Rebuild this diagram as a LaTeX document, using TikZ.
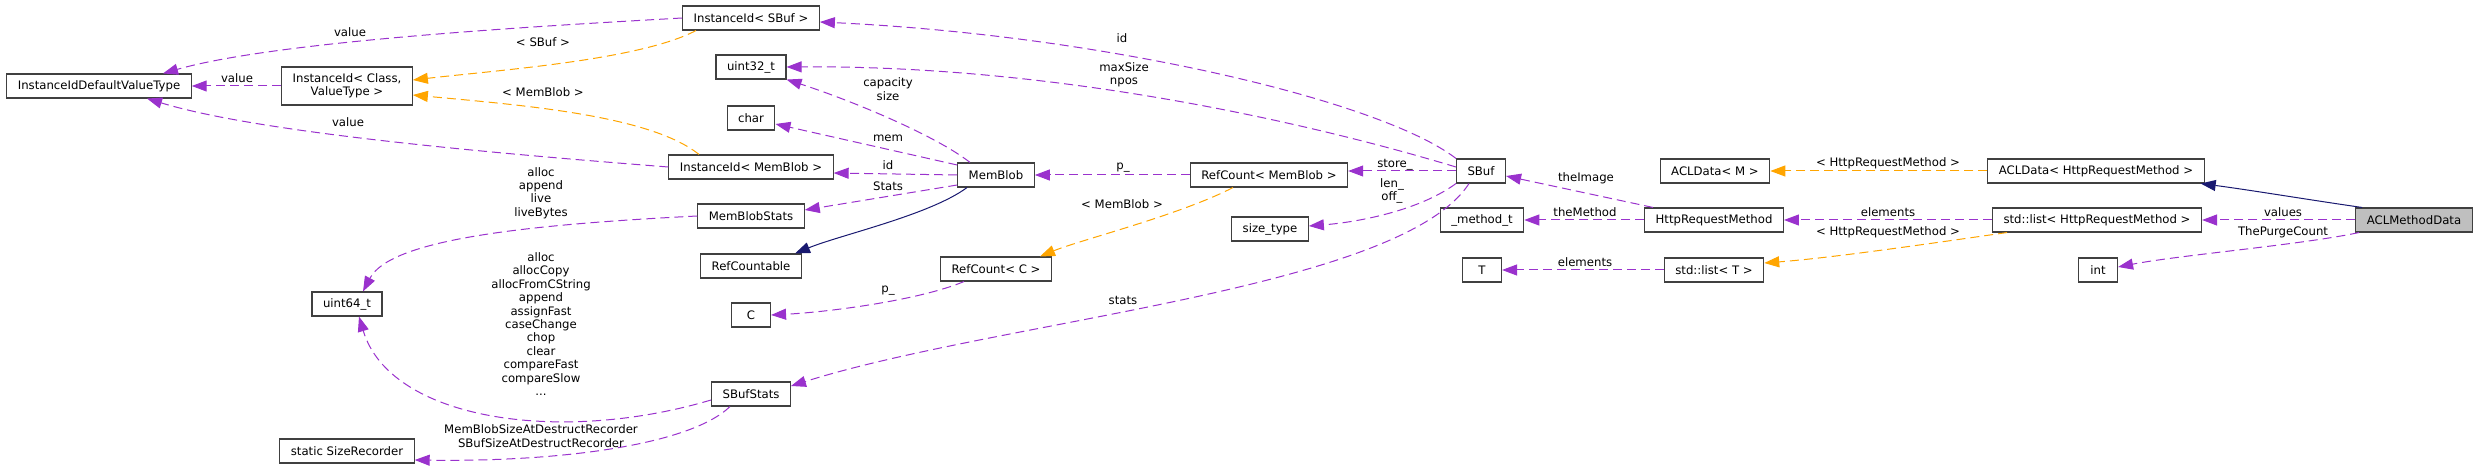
\documentclass[tikz,border=0pt]{standalone}
\usepackage{fontspec}
\setmainfont{DejaVu Sans}
\usetikzlibrary{arrows.meta}
\definecolor{usecol}{HTML}{9A32CD}
\definecolor{tplcol}{HTML}{FFA500}
\definecolor{inhcol}{HTML}{191970}
\definecolor{boxcol}{HTML}{404040}
\definecolor{fillcol}{HTML}{BFBFBF}
\newcommand{\dfs}{\fontsize{11.7}{13.4}\selectfont}
\begin{document}
\begin{tikzpicture}[x=1pt,y=-1pt,
 cls/.style={draw=boxcol, line width=1.1pt, fill=white, minimum height=24pt, minimum width=39pt, inner xsep=11pt, inner ysep=2pt, font=\dfs, align=center},
 lbl/.style={font=\dfs, align=center, inner sep=0pt},
 usage/.style={draw=usecol, line width=1pt, dash pattern=on 9pt off 5pt, -{Triangle[length=15pt,width=11pt]}},
 tmpl/.style={usage, draw=tplcol},
 inh/.style={draw=inhcol, line width=1pt, -{Triangle[length=15pt,width=11pt]}}]
\useasboundingbox (0,0) rectangle (2479,470);

% nodes
\node[cls] (iidvt) at (99,86) {InstanceIdDefaultValueType};
\node[cls, minimum height=38pt] (iicv) at (347,86) {InstanceId< Class,\\ValueType >};
\node[cls] (u64) at (347,304) {uint64\_t};
\node[cls] (ssr) at (347,451) {static SizeRecorder};
\node[cls] (iisbuf) at (751,18) {InstanceId< SBuf >};
\node[cls] (u32) at (751,67) {uint32\_t};
\node[cls] (chr) at (751,118) {char};
\node[cls] (iimb) at (751,167) {InstanceId< MemBlob >};
\node[cls] (mbs) at (751,216) {MemBlobStats};
\node[cls] (rc) at (751,266) {RefCountable};
\node[cls] (c) at (751,315) {C};
\node[cls] (sbs) at (751,394) {SBufStats};
\node[cls] (mb) at (996,175) {MemBlob};
\node[cls] (rcc) at (996,269) {RefCount< C >};
\node[cls] (rcmb) at (1269,175) {RefCount< MemBlob >};
\node[cls] (st) at (1270,229) {size\_type};
\node[cls] (sbuf) at (1481,171) {SBuf};
\node[cls] (mt) at (1482,220) {\_method\_t};
\node[cls] (t) at (1482,270) {T};
\node[cls] (aclm) at (1715,171) {ACLData< M >};
\node[cls] (hrm) at (1714,220) {HttpRequestMethod};
\node[cls] (lt) at (1714,270) {std::list< T >};
\node[cls] (aclhrm) at (2096,171) {ACLData< HttpRequestMethod >};
\node[cls] (lhrm) at (2097,220) {std::list< HttpRequestMethod >};
\node[cls] (int) at (2098,270) {int};
\node[cls, fill=fillcol] (amd) at (2414,220) {ACLMethodData};

% edges
\draw[usage] (iisbuf.west) .. controls (560,25) and (280,40) .. ([xshift=64pt]iidvt.north);
\draw[usage] (iicv.west) -- (iidvt.east);
\draw[usage] (iimb.west) .. controls (450,150) and (250,130) .. ([xshift=48pt]iidvt.south);
\draw[tmpl] ([xshift=-55pt]iisbuf.south) .. controls (640,60) and (500,70) .. ([yshift=6pt]iicv.east);
\draw[tmpl] ([xshift=-52pt]iimb.north) .. controls (650,115) and (520,105) .. ([yshift=-9pt]iicv.east);
\draw[usage] (mbs.west) .. controls (520,225) and (390,240) .. ([xshift=16pt]u64.north);
\draw[usage] ([yshift=-6pt]sbs.west) .. controls (560,445) and (390,420) .. ([xshift=12pt]u64.south);
\draw[usage] ([xshift=-21pt]sbs.south) .. controls (690,445) and (560,462) .. ([yshift=-9pt]ssr.east);
\draw[usage] ([xshift=-26pt]mb.north) .. controls (935,135) and (850,100) .. (u32.south east);
\draw[usage] ([yshift=10pt]mb.west) -- ([yshift=-6pt]chr.east);
\draw[usage] (mb.west) -- ([yshift=-6pt]iimb.east);
\draw[usage] ([yshift=-10pt]mb.west) -- ([yshift=6pt]mbs.east);
\draw[inh] ([xshift=-29pt]mb.south) .. controls (930,215) and (840,235) .. ([xshift=44pt]rc.north);
\draw[usage] (rcmb.west) -- (mb.east);
\draw[tmpl] ([xshift=-36pt]rcmb.south) .. controls (1180,215) and (1080,240) .. ([xshift=44pt]rcc.north);
\draw[usage] ([xshift=-32pt]rcc.south) .. controls (920,300) and (830,312) .. (c.east);
\draw[usage] (sbuf.north west) .. controls (1380,100) and (1100,35) .. ([yshift=-4pt]iisbuf.east);
\draw[usage] ([yshift=4pt]sbuf.west) .. controls (1300,120) and (1050,65) .. (u32.east);
\draw[usage] (sbuf.west) -- ([yshift=4pt]rcmb.east);
\draw[usage] (sbuf.south west) .. controls (1420,210) and (1360,222) .. ([yshift=3pt]st.east);
\draw[usage] ([xshift=-12pt]sbuf.south) .. controls (1400,290) and (1000,320) .. ([yshift=8pt]sbs.east);
\draw[usage] ([xshift=-61pt]hrm.north) -- ([yshift=-5pt]sbuf.east);
\draw[usage] (hrm.west) -- (mt.east);
\draw[usage] (lhrm.west) -- (hrm.east);
\draw[tmpl] ([xshift=-90pt]lhrm.south) .. controls (1920,245) and (1830,258) .. ([yshift=7pt]lt.east);
\draw[tmpl] (aclhrm.west) -- (aclm.east);
\draw[inh] ([xshift=-52pt]amd.north) .. controls (2310,200) and (2250,190) .. ([xshift=-4pt]aclhrm.south east);
\draw[usage] (amd.west) -- (lhrm.east);
\draw[usage] ([xshift=-55pt]amd.south) .. controls (2300,245) and (2180,255) .. ([yshift=3pt]int.east);
\draw[usage] (lt.west) -- (t.east);

% labels
\node[lbl] (l1) at (350,32) {value};
\node[lbl] (l2) at (237,78) {value};
\node[lbl] (l3) at (348,122) {value};
\node[lbl] (l4) at (543,42) {< SBuf >};
\node[lbl] (l5) at (543,92) {< MemBlob >};
\node[lbl] (l6) at (541,193) {alloc\\append\\live\\liveBytes};
\node[lbl] (l7) at (541,324) {alloc\\allocCopy\\allocFromCString\\append\\assignFast\\caseChange\\chop\\clear\\compareFast\\compareSlow\\...};
\node[lbl] (l8) at (541,436) {MemBlobSizeAtDestructRecorder\\SBufSizeAtDestructRecorder};
\node[lbl] (l9) at (888,89) {capacity\\size};
\node[lbl] (l10) at (888,138) {mem};
\node[lbl] (l11) at (888,165) {id};
\node[lbl] (l12) at (888,186) {Stats};
\node[lbl] (l14) at (1123,168) {p\_};
\node[lbl] (l15) at (1122,204) {< MemBlob >};
\node[lbl] (l16) at (888,291) {p\_};
\node[lbl] (l17) at (1122,38) {id};
\node[lbl] (l18) at (1124,75) {maxSize\\npos};
\node[lbl] (l19) at (1395,165) {store\_};
\node[lbl] (l20) at (1392,191) {len\_\\off\_};
\node[lbl] (l21) at (1123,300) {stats};
\node[lbl] (l22) at (1586,178) {theImage};
\node[lbl] (l23) at (1585,212) {theMethod};
\node[lbl] (l24) at (1888,212) {elements};
\node[lbl] (l25) at (1888,232) {< HttpRequestMethod >};
\node[lbl] (l26) at (1888,163) {< HttpRequestMethod >};
\node[lbl] (l28) at (2283,212) {values};
\node[lbl] (l29) at (2283,232) {ThePurgeCount};
\node[lbl] (l30) at (1585,262) {elements};
\end{tikzpicture}
\end{document}
